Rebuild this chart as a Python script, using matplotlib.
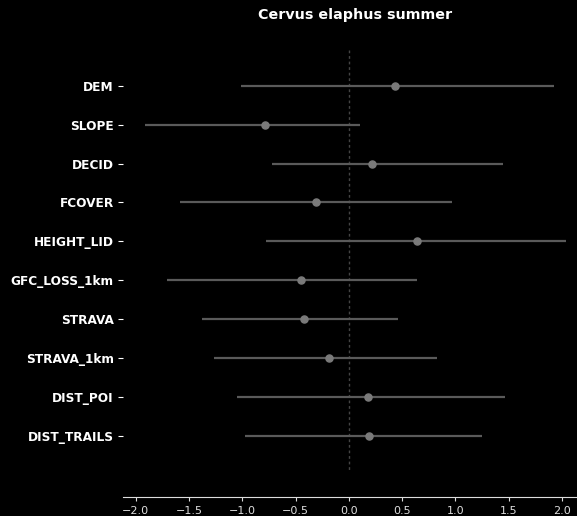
import matplotlib
matplotlib.use("Agg")
import matplotlib.pyplot as plt

# Posterior summaries per covariate
covariates = ["DEM", "SLOPE", "DECID", "FCOVER", "HEIGHT_LID",
              "GFC_LOSS_1km", "STRAVA", "STRAVA_1km", "DIST_POI", "DIST_TRAILS"]
means = [0.43, -0.79, 0.22, -0.31, 0.64, -0.45, -0.42, -0.19, 0.18, 0.19]
lower = [-1.01, -1.91, -0.72, -1.58, -0.78, -1.71, -1.38, -1.27, -1.05, -0.97]
upper = [1.92, 0.10, 1.45, 0.97, 2.04, 0.64, 0.46, 0.83, 1.46, 1.25]
xticks = [-2.0, -1.5, -1.0, -0.5, 0.0, 0.5, 1.0, 1.5, 2.0]

fig = plt.figure(figsize=(5.77, 5.16), dpi=100, facecolor="black")
ax = fig.add_axes([0.213, 0.037, 0.787, 0.91])
ax.set_facecolor("black")

ypos = list(range(len(covariates)))
ax.plot([0, 0], [-0.93, 9.93], color="#444444", lw=1, ls=(0, (2, 2)), zorder=1)
ax.hlines(ypos, lower, upper, color="#5a5a5a", lw=1.6, zorder=2)
ax.scatter(means, ypos, s=26, color="#7a7a7a", zorder=3)

ax.set_ylim(10.57, -1.5)
ax.set_xlim(-2.12, 2.14)
ax.set_yticks(ypos)
ax.set_yticklabels(covariates, fontsize=8.7, fontweight="bold", color="white")
ax.set_xticks(xticks)
ax.set_xticklabels([f"{t:.1f}".replace("-", "\u2212") for t in xticks],
                   fontsize=8, color="#dddddd")
ax.tick_params(axis="y", colors="white", length=3.5, width=0.8, pad=3)
ax.tick_params(axis="x", colors="#dddddd", length=3, width=0.8)
for lbl in ax.get_yticklabels():
    lbl.set_color("white")
for side in ["top", "right", "left"]:
    ax.spines[side].set_visible(False)
ax.spines["bottom"].set_color("#dddddd")
ax.spines["bottom"].set_linewidth(0.8)

fig.suptitle("Cervus elaphus summer", x=0.615, y=0.985, fontsize=10.3,
             fontweight="bold", color="white")

fig.savefig("out.png", dpi=100, facecolor="black")
